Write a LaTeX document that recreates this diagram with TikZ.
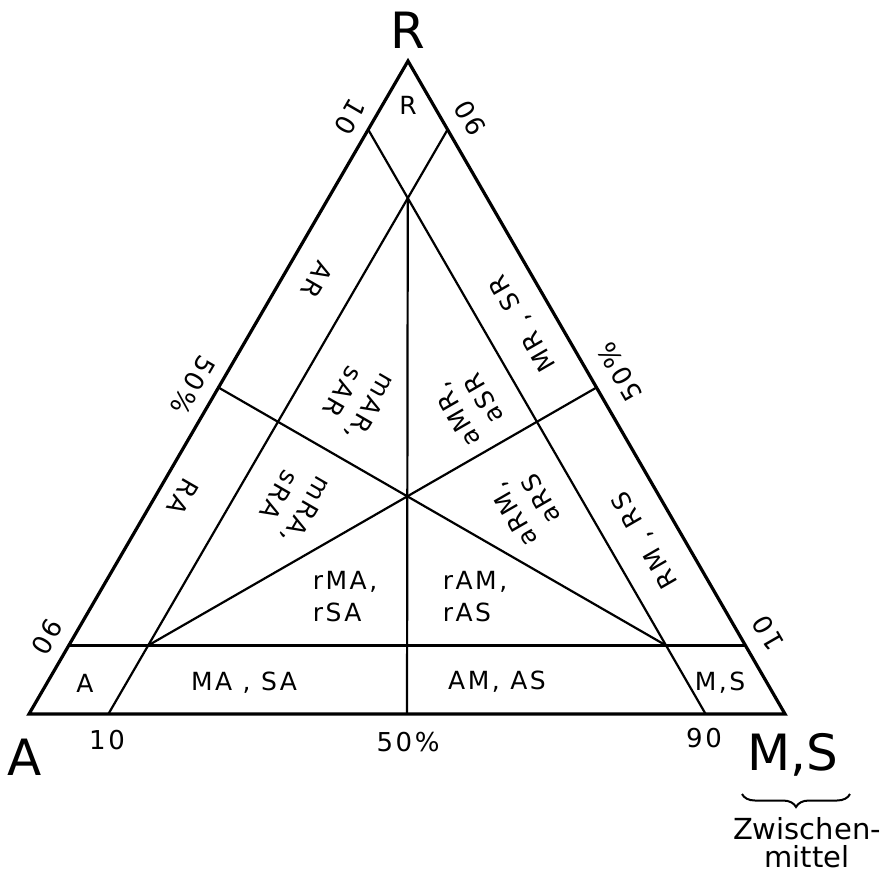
\documentclass[tikz,border=0pt]{standalone}
\usepackage{fontspec}
\setmainfont{DejaVu Sans}[LetterSpace=10]
\usepackage{tikz}
\usetikzlibrary{calc,decorations.pathreplacing}

\begin{document}
\begin{tikzpicture}[
    x=0.5pt, y=-0.5pt,
    font=\fontsize{12.5}{16}\selectfont,
    side/.style={line width=1.6pt, line join=miter},
    cut/.style={line width=1.1pt},
    field/.style={inner sep=0pt, align=center},
    tick/.style={inner sep=0pt, font=\fontsize{13}{14}\selectfont},
    corner/.style={inner sep=0pt, anchor=base, font=\fontsize{25}{26}\selectfont\addfontfeature{LetterSpace=0}}
  ]
    \useasboundingbox (0,0) rectangle (887,873);
    \coordinate (A) at (29,714);
    \coordinate (M) at (785,714);
    \coordinate (R) at (408,61);
    \coordinate (left10) at (barycentric cs:A=0.105,R=0.895);
    \coordinate (left50) at (barycentric cs:A=0.5,R=0.5);
    \coordinate (left90) at (barycentric cs:A=0.895,R=0.105);
    \coordinate (right90) at (barycentric cs:M=0.105,R=0.895);
    \coordinate (right50) at (barycentric cs:M=0.5,R=0.5);
    \coordinate (right10) at (barycentric cs:M=0.895,R=0.105);
    \coordinate (base10) at (barycentric cs:A=0.895,M=0.105);
    \coordinate (base50) at (barycentric cs:A=0.5,M=0.5);
    \coordinate (base90) at (barycentric cs:A=0.105,M=0.895);
    \coordinate (topin) at (barycentric cs:A=0.105,M=0.105,R=0.79);
    \coordinate (leftin) at (barycentric cs:A=0.79,M=0.105,R=0.105);
    \coordinate (rightin) at (barycentric cs:A=0.105,M=0.79,R=0.105);
    \draw[cut] (left10) -- (base90);
    \draw[cut] (right90) -- (base10);
    \draw[cut] (left90) -- (right10);
    \draw[cut] (left50) -- (rightin);
    \draw[cut] (right50) -- (leftin);
    \draw[cut] (base50) -- (topin);
    \draw[side] (A) -- (M) -- (R) -- cycle;
    \node[corner] (labR) at (408,48) {R};
    \node[corner] (labA) at (25,775) {A};
    \node[corner] (labMS) at (793,770) {M,S};
    \coordinate (braceL) at (742,794);
    \coordinate (braceR) at (850,794);
    \draw[line width=1pt, decorate, decoration={brace, mirror, amplitude=6.5pt}] (braceL) -- (braceR);
    \node[inner sep=0pt, anchor=north, align=center, font=\fontsize{14.5}{14}\selectfont\addfontfeature{LetterSpace=0}] (zw) at (807,817) {Zwischen-\\mittel};
    \node[tick, rotate=-120] (tl10) at (350,117) {10};
    \node[tick, rotate=120] (tr90) at (470,118) {90};
    \node[tick, rotate=-120] (tl50) at (193,385) {50\%};
    \node[tick, rotate=120] (tr50) at (620,372) {50\%};
    \node[tick, rotate=-120] (tl90) at (47,637) {90};
    \node[tick, rotate=120] (tr10) at (768,633) {10};
    \node[tick] (tb10) at (107,740) {10};
    \node[tick] (tb50) at (408,742) {50\%};
    \node[tick] (tb90) at (704,738) {90};
    \node[field] (fR) at (408,105) {R};
    \node[field, rotate=-120] (fAR) at (317,280) {AR};
    \node[field, rotate=120] (fMR) at (523,323) {MR , SR};
    \node[field, rotate=-120] (fmAR) at (357,400) {mAR,\\sAR};
    \node[field, rotate=120] (faMR) at (470,407) {aMR,\\aSR};
    \node[field, rotate=-120] (fRA) at (183,497) {RA};
    \node[field, rotate=-120] (fmRA) at (293,503) {mRA,\\sRA};
    \node[field, rotate=120] (faRM) at (527,507) {aRM,\\aRS};
    \node[field, rotate=120] (fRM) at (645,540) {RM , RS};
    \node[field, align=left] (frMA) at (345,597) {rMA,\\rSA};
    \node[field, align=left] (frAM) at (475,597) {rAM,\\rAS};
    \node[field] (fMA) at (244,683) {MA , SA};
    \node[field] (fAM) at (497,682) {AM, AS};
    \node[field] (fA) at (85,683) {A};
    \node[field] (fMS) at (720,683) {M,S};
  \end{tikzpicture}
\end{document}
